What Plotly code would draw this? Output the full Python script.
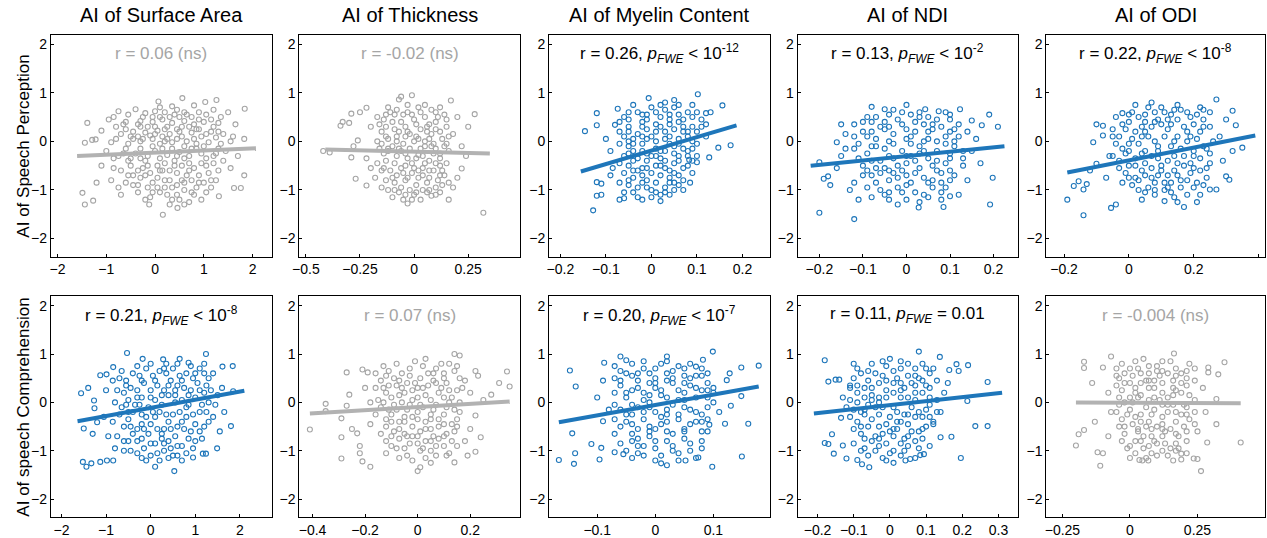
import plotly.graph_objects as go

# ---------------- data ----------------
col_titles = ["AI of Surface Area", "AI of Thickness", "AI of Myelin Content", "AI of NDI", "AI of ODI"]
row_titles = ["AI of Speech Perception", "AI of speech Comprehension"]

stats_text = [
    ["r = 0.06 (ns)", "r = -0.02 (ns)",
     "r = 0.26, <i>p</i><sub><i>FWE</i></sub> < 10<sup>-12</sup>",
     "r = 0.13, <i>p</i><sub><i>FWE</i></sub> < 10<sup>-2</sup>",
     "r = 0.22, <i>p</i><sub><i>FWE</i></sub> < 10<sup>-8</sup>"],
    ["r = 0.21, <i>p</i><sub><i>FWE</i></sub> < 10<sup>-8</sup>", "r = 0.07 (ns)",
     "r = 0.20, <i>p</i><sub><i>FWE</i></sub> < 10<sup>-7</sup>",
     "r = 0.11, <i>p</i><sub><i>FWE</i></sub> = 0.01", "r = -0.004 (ns)"],
]
significant = [[False, False, True, True, True], [True, False, True, True, False]]

surface_perception = [(0.07,0.82),(0.56,0.89),(1.03,0.81),(1.26,0.85),(0.35,0.72),(0.8,0.74),
 (-0.75,0.62),(-0.4,0.66),(0.0,0.62),(0.2,0.6),(0.45,0.65),(0.9,0.6),(1.2,0.65),(1.5,0.6),(1.84,0.67),(-0.2,0.58),(0.65,0.55),
 (-1.39,0.38),(-0.95,0.45),(-0.6,0.4),(-0.3,0.42),(-0.05,0.4),(0.15,0.45),(0.35,0.38),(0.6,0.42),(0.8,0.35),(1.0,0.4),(1.3,0.38),(1.65,0.35),(-0.8,0.3),(0.25,0.3),
 (-1.1,0.22),(-0.7,0.15),(-0.45,0.2),(-0.2,0.18),(0.05,0.22),(0.3,0.15),(0.5,0.2),(0.75,0.18),(0.95,0.1),(1.15,0.2),(1.4,0.15),(1.6,0.1),(-0.05,0.05),(0.45,0.05),
 (-1.44,-0.03),(-1.29,0.03),(-1.22,0.04),(-0.9,-0.02),(-0.55,-0.05),(-0.3,0.0),(0.1,-0.05),(0.35,-0.02),(0.65,0.0),(0.85,-0.05),(1.1,-0.02),(1.35,-0.05),(1.83,0.05),(1.55,0.0),
 (-1.0,-0.2),(-0.75,-0.3),(-0.4,-0.25),(-0.15,-0.3),(0.0,-0.2),(0.25,-0.28),(0.5,-0.22),(0.7,-0.3),(0.95,-0.25),(1.2,-0.3),(1.45,-0.2),(1.7,-0.3),(-0.6,-0.15),(0.4,-0.4),
 (-1.1,-0.5),(-0.85,-0.55),(-0.5,-0.5),(-0.25,-0.55),(0.05,-0.5),(0.3,-0.6),(0.55,-0.5),(0.8,-0.55),(1.05,-0.5),(1.3,-0.6),(1.55,-0.55),(-0.1,-0.65),(0.65,-0.7),
 (-1.2,-0.85),(-0.9,-0.8),(-0.6,-0.85),(-0.3,-0.75),(-0.05,-0.85),(0.2,-0.8),(0.45,-0.9),(0.75,-0.8),(1.0,-0.85),(1.25,-0.8),(1.83,-0.7),(1.76,-0.96),(1.62,-0.96),
 (-1.49,-1.06),(-1.44,-1.3),(-1.27,-1.22),(-0.7,-1.1),(-0.35,-1.05),(-0.1,-1.15),(0.25,-1.1),(0.5,-1.2),(0.8,-1.1),(1.31,-1.13),(0.95,-1.2),(0.16,-1.51),(0.46,-1.37),(-0.12,-1.3),
 (-0.35,0.1),(0.15,0.1),(0.6,-0.1),(0.9,0.25),(-0.2,-0.4),(0.2,-0.45),(0.7,-0.45),(1.1,-0.65),(-0.45,-0.7),(0.05,-0.95),(0.35,-0.95),(0.6,-1.0),(-0.15,0.3),(0.5,0.5),(0.1,0.7),
 (-0.85,0.5),(-0.55,0.55),(-0.25,0.5),(0.1,0.5),(0.4,0.55),(0.75,0.5),(1.05,0.55),(1.35,0.5),
 (-0.6,0.25),(-0.3,0.3),(0.0,0.3),(0.2,0.25),(0.55,0.3),(0.85,0.25),(1.2,0.3),
 (-0.8,0.05),(-0.45,0.05),(-0.1,0.12),(0.2,0.0),(0.55,0.1),(0.8,0.05),(1.25,0.08),
 (-0.85,-0.35),(-0.5,-0.35),(-0.3,-0.15),(0.1,-0.35),(0.35,-0.15),(0.6,-0.35),(0.85,-0.15),(1.05,-0.35),(1.3,-0.15),
 (-0.7,-0.6),(-0.35,-0.6),(0.15,-0.6),(0.45,-0.65),(0.9,-0.7),(1.2,-0.45),
 (-0.75,-0.95),(-0.45,-0.9),(-0.15,-0.95),(0.1,-1.05),(0.55,-0.8),(0.85,-0.95),(1.15,-0.95),
 (-0.2,-1.2),(0.35,-1.2),(0.7,-1.25),
 (-0.65,0.35),(-0.35,0.35),(-0.05,0.5),(0.3,0.5),(0.6,0.6),(0.9,0.45),(1.15,0.45),
 (-0.5,0.1),(-0.25,0.05),(0.0,0.15),(0.25,0.05),(0.45,0.25),(0.7,0.3),(1.05,0.15),(1.3,0.2),
 (-0.65,-0.25),(-0.3,-0.35),(-0.05,-0.1),(0.15,-0.15),(0.45,-0.3),(0.75,-0.15),(1.0,-0.1),(1.25,-0.25),
 (-0.55,-0.4),(-0.15,-0.5),(0.1,-0.6),(0.4,-0.5),(0.7,-0.6),(0.95,-0.45),(1.4,-0.4),
 (-0.55,-0.7),(-0.2,-0.7),(0.05,-0.75),(0.3,-0.8),(0.6,-0.85),(0.9,-0.85),(1.15,-0.8),
 (-0.35,-0.9),(-0.05,-1.05),(0.2,-0.95),(0.45,-1.1),(0.75,-1.05),(1.05,-1.05),(0.3,-1.3),(0.6,-1.3)]

thickness_perception = [(-0.34,0.32),(-0.39,-0.23),(-0.29,0.57),(-0.25,0.6),(-0.22,0.69),(-0.29,-0.33),(-0.27,-0.77),(-0.22,-0.91),
 (-0.06,0.92),(-0.01,0.95),(-0.07,0.86),(0.17,0.84),(0.22,-0.56),(0.16,-1.2),(0.08,-1.12),(-0.03,-1.28),(-0.05,-1.2),(0.28,0.56),(0.32,-1.47),
 (-0.3,0.38),(-0.33,0.4),(-0.42,-0.2),(-0.26,0.02),(-0.28,-0.1),(0.2,0.5),(0.25,0.3),(0.22,-0.1),(0.24,-0.3),(0.2,-0.75),(0.18,-0.95),(0.12,-1.05),
 (-0.15,-0.95),(-0.18,-0.75),(-0.2,-0.55),(-0.22,-0.35),(-0.2,0.3),(-0.17,0.5),(-0.12,0.7),(0.05,0.75),(0.12,0.7),
 (-0.15,0.2),(-0.1,0.4),(-0.05,0.55),(0.0,0.45),(0.05,0.5),(0.1,0.4),(0.15,0.3),(-0.12,0.05),(-0.07,0.2),(-0.02,0.15),(0.03,0.25),(0.08,0.15),(0.13,0.05),
 (-0.16,-0.15),(-0.1,-0.1),(-0.05,-0.05),(0.0,0.0),(0.05,-0.1),(0.1,-0.15),(0.16,-0.2),(-0.13,-0.4),(-0.08,-0.3),(-0.03,-0.35),(0.02,-0.28),(0.07,-0.4),(0.12,-0.35),
 (-0.11,-0.6),(-0.06,-0.55),(-0.01,-0.65),(0.04,-0.55),(0.09,-0.6),(0.14,-0.7),(-0.09,-0.85),(-0.04,-0.8),(0.01,-0.9),(0.06,-0.85),(0.1,-0.95),
 (-0.07,-1.05),(0.0,-1.1),(0.04,-1.0),(-0.11,0.6),(0.02,0.7),(-0.14,-0.25),(0.12,-0.5),(-0.02,-0.15),(0.07,0.05),(-0.08,0.1),(0.04,-0.7),(-0.04,0.3),(0.1,0.6),
 (-0.16,0.35),(-0.13,0.55),(-0.08,0.65),(-0.03,0.75),(0.03,0.6),(0.08,0.65),(0.14,0.55),(0.18,0.15),
 (-0.17,0.0),(-0.13,0.3),(-0.06,0.4),(-0.01,0.55),(0.07,0.35),(0.12,0.2),(0.16,0.1),
 (-0.15,-0.05),(-0.09,0.25),(-0.04,0.1),(0.01,0.1),(0.05,0.0),(0.09,-0.05),(0.14,-0.1),
 (-0.17,-0.45),(-0.12,-0.2),(-0.06,-0.2),(-0.01,-0.45),(0.03,-0.15),(0.09,-0.25),(0.15,-0.45),
 (-0.15,-0.6),(-0.1,-0.75),(-0.05,-0.65),(0.02,-0.75),(0.07,-0.6),(0.11,-0.8),(0.16,-0.85),
 (-0.12,-1.0),(-0.06,-0.95),(-0.02,-1.0),(0.03,-1.2),(0.07,-1.0),(-0.1,-1.15),(0.13,-0.9),
 (-0.14,0.45),(-0.09,0.55),(-0.03,0.6),(0.01,0.35),(0.06,0.3),(0.11,0.5),(0.15,0.45),
 (-0.13,0.1),(-0.08,0.0),(-0.03,0.2),(0.02,0.05),(0.06,0.2),(0.1,0.25),(0.15,-0.05),
 (-0.12,-0.15),(-0.07,-0.15),(-0.04,-0.25),(0.01,-0.35),(0.04,-0.3),(0.08,-0.1),(0.12,-0.25),
 (-0.14,-0.55),(-0.09,-0.45),(-0.04,-0.5),(0.0,-0.55),(0.05,-0.45),(0.1,-0.45),(0.13,-0.6),
 (-0.13,-0.8),(-0.08,-0.7),(-0.03,-0.75),(0.02,-0.6),(0.07,-0.75),(0.12,-0.7),
 (-0.09,-1.0),(-0.04,-1.1),(0.01,-1.05),(0.06,-1.05),(0.1,-1.1),(-0.01,-1.2)]

myelin_perception = [(-0.146,0.21),(-0.12,0.58),(-0.12,0.33),(-0.12,-0.84),(-0.11,-0.87),(-0.128,-1.42),(-0.12,-1.12),(-0.11,-1.1),
 (-0.074,0.67),(-0.08,0.34),(-0.07,-1.2),(-0.06,-1.17),(-0.006,0.89),(-0.02,-1.2),(0.02,-1.23),(0.102,0.97),(0.156,0.74),(0.13,0.6),(0.12,0.58),
 (0.174,-0.08),(0.147,-0.13),(0.127,-0.33),(0.1,-0.3),(0.1,-0.43),(0.083,-0.38),(0.085,-0.85),(-0.09,-0.2),(-0.1,0.05),(-0.085,-0.55),(-0.09,-0.7),
 (0.11,0.3),(0.12,0.1),(0.09,0.75),(0.05,0.85),(0.07,-1.0),(0.04,-1.1),
 (-0.06,0.5),(-0.03,0.6),(0.0,0.7),(0.03,0.65),(0.06,0.55),(0.09,0.5),(-0.05,0.3),(-0.02,0.4),(0.01,0.35),(0.04,0.45),(0.07,0.3),(0.1,0.2),
 (-0.06,0.1),(-0.03,0.15),(0.0,0.1),(0.03,0.2),(0.06,0.05),(0.09,0.0),(-0.05,-0.1),(-0.02,-0.05),(0.01,-0.15),(0.04,-0.05),(0.07,-0.15),(0.08,-0.2),
 (-0.06,-0.3),(-0.03,-0.35),(0.0,-0.3),(0.03,-0.4),(0.06,-0.3),(-0.05,-0.5),(-0.02,-0.55),(0.01,-0.5),(0.04,-0.6),(0.07,-0.55),
 (-0.04,-0.75),(-0.01,-0.8),(0.02,-0.7),(0.05,-0.85),(-0.03,-0.95),(0.0,-1.0),(0.03,-0.95),(-0.07,-0.85),(-0.04,0.75),(0.02,0.5),(0.05,0.25),
 (-0.01,0.25),(0.02,-0.2),(-0.04,-0.2),(0.05,-0.45),(-0.01,-0.4),
 (-0.07,0.4),(-0.05,0.6),(-0.01,0.55),(0.02,0.75),(0.05,0.7),(0.08,0.6),(0.11,0.45),
 (-0.07,0.2),(-0.04,0.05),(-0.01,0.45),(0.02,0.3),(0.06,0.4),(0.08,0.2),(0.12,0.35),
 (-0.07,-0.05),(-0.04,-0.05),(-0.01,0.05),(0.03,0.05),(0.05,-0.1),(0.08,0.1),(0.1,-0.05),
 (-0.07,-0.45),(-0.04,-0.4),(-0.01,-0.25),(0.02,-0.35),(0.05,-0.25),(0.09,-0.4),
 (-0.06,-0.65),(-0.03,-0.6),(0.0,-0.65),(0.03,-0.55),(0.06,-0.7),(0.09,-0.65),
 (-0.05,-0.9),(-0.02,-0.85),(0.01,-1.05),(0.04,-0.85),(0.07,-0.8),(-0.06,-1.05),(0.02,-1.1),(-0.03,-1.15),(0.05,-1.0),
 (-0.05,0.45),(-0.02,0.55),(0.01,0.6),(0.04,0.55),(0.07,0.45),(0.1,0.6),
 (-0.05,0.2),(-0.02,0.3),(0.01,0.2),(0.04,0.35),(0.07,0.2),(0.09,0.3),
 (-0.05,0.0),(-0.02,0.1),(0.01,0.0),(0.04,0.1),(0.06,-0.05),(0.09,-0.15),
 (-0.05,-0.25),(-0.02,-0.2),(0.01,-0.3),(0.03,-0.2),(0.06,-0.4),(0.08,-0.3),
 (-0.04,-0.6),(-0.01,-0.55),(0.02,-0.5),(0.05,-0.65),(0.08,-0.5),
 (-0.05,-0.8),(-0.02,-0.7),(0.01,-0.85),(0.04,-0.75),(0.06,-0.9),
 (-0.04,-1.05),(-0.01,-0.95),(0.03,-1.05),(0.0,-1.15),(0.06,0.75),(0.03,0.8)]

ndi_perception = [(-0.2,-1.47),(-0.12,-1.6),(-0.2,-0.43),(-0.19,-0.77),(-0.18,-0.72),(-0.175,-0.9),(-0.16,-0.02),(-0.15,0.35),(-0.14,0.15),
 (-0.08,0.71),(-0.05,0.66),(0.21,0.3),(0.19,0.55),(0.173,0.33),(0.15,0.43),(0.123,0.66),(0.074,0.62),(0.043,0.66),(0.198,-0.75),(0.192,-1.3),
 (0.1,-1.13),(0.12,-1.1),(0.085,-1.35),(0.028,-1.36),(0.14,-0.8),(-0.15,-0.3),(-0.16,-0.55),(-0.13,-1.0),(-0.14,-0.15),(-0.11,-1.2),
 (0.15,-0.2),(0.16,0.05),(0.13,-0.5),(0.17,-0.45),(0.14,0.2),(-0.1,0.4),(0.0,0.75),
 (-0.1,0.2),(-0.06,0.3),(-0.02,0.45),(0.02,0.4),(0.06,0.35),(0.1,0.45),(-0.11,-0.05),(-0.07,0.05),(-0.03,0.15),(0.01,0.1),(0.05,0.2),(0.09,0.1),
 (-0.09,-0.25),(-0.05,-0.15),(-0.01,-0.2),(0.03,-0.1),(0.07,-0.2),(0.11,-0.1),(-0.1,-0.5),(-0.06,-0.4),(-0.02,-0.5),(0.02,-0.4),(0.06,-0.5),(0.1,-0.35),
 (-0.08,-0.7),(-0.04,-0.8),(0.0,-0.7),(0.04,-0.75),(0.08,-0.65),(-0.06,-1.0),(-0.02,-0.95),(0.02,-1.05),(0.06,-0.95),(-0.04,-1.2),(0.03,-1.25),
 (-0.04,0.55),(0.03,0.6),(0.08,-0.85),(-0.08,0.4),(0.0,-0.3),(0.04,0.0),(-0.04,-0.6),(0.1,-0.6),(-0.12,-0.85),(0.11,0.25),
 (-0.12,0.35),(-0.07,0.5),(-0.03,0.65),(0.01,0.55),(0.05,0.5),(0.09,0.6),(0.12,0.35),
 (-0.12,0.1),(-0.08,0.2),(-0.04,0.3),(0.0,0.25),(0.04,0.35),(0.08,0.3),(0.12,0.1),
 (-0.12,-0.15),(-0.07,-0.1),(-0.03,-0.05),(0.01,-0.05),(0.05,0.05),(0.09,-0.05),(0.13,-0.2),
 (-0.11,-0.35),(-0.07,-0.55),(-0.03,-0.35),(0.01,-0.3),(0.05,-0.35),(0.09,-0.45),(0.13,-0.35),
 (-0.1,-0.7),(-0.06,-0.65),(-0.02,-0.75),(0.02,-0.65),(0.06,-0.8),(0.1,-0.8),
 (-0.09,-0.95),(-0.04,-1.05),(0.0,-0.9),(0.04,-1.1),(0.08,-1.05),(-0.08,-1.15),(0.0,-1.2),
 (-0.09,0.5),(-0.05,0.4),(-0.01,0.6),(0.03,0.5),(0.07,0.45),(0.1,0.55),
 (-0.09,0.1),(-0.05,0.25),(-0.01,0.35),(0.02,0.2),(0.06,0.25),(0.1,0.2),
 (-0.08,-0.1),(-0.04,0.0),(0.0,0.05),(0.04,-0.2),(0.07,0.0),(0.11,0.0),
 (-0.08,-0.4),(-0.04,-0.3),(0.0,-0.45),(0.03,-0.25),(0.07,-0.4),(0.1,-0.25),
 (-0.09,-0.6),(-0.05,-0.55),(-0.01,-0.6),(0.03,-0.55),(0.07,-0.6),(0.11,-0.7),
 (-0.07,-0.85),(-0.03,-0.65),(0.01,-0.85),(0.05,-0.85),(0.09,-0.95),
 (-0.05,-1.1),(-0.01,-1.05),(0.05,-1.15),(0.08,-1.2),(-0.02,-1.3)]

odi_perception = [(-0.17,-0.92),(-0.19,-1.2),(-0.14,-1.52),(-0.155,-0.82),(-0.14,-0.99),(-0.13,-0.88),(-0.11,-0.02),(-0.1,0.35),(-0.08,0.12),
 (-0.1,-0.46),(-0.08,0.32),(-0.055,-1.37),(-0.04,-1.3),(-0.02,0.58),(0.07,0.8),(0.27,0.86),(0.32,0.63),(0.33,0.33),(0.35,-0.13),(0.32,-0.2),
 (0.3,-0.72),(0.31,-0.79),(0.27,-0.99),(0.25,-0.99),(0.21,-1.25),(0.17,-1.35),(0.11,-1.23),(-0.12,-0.6),(-0.06,-0.3),(-0.05,0.1),(-0.07,-0.75),
 (0.3,0.45),(0.28,0.1),(0.29,-0.4),(0.22,0.7),(0.02,0.75),(0.04,-1.2),
 (-0.02,0.35),(0.03,0.5),(0.08,0.6),(0.13,0.55),(0.18,0.6),(0.23,0.45),(-0.03,0.1),(0.02,0.2),(0.07,0.3),(0.12,0.25),(0.17,0.3),(0.22,0.2),
 (-0.02,-0.15),(0.03,-0.05),(0.08,0.0),(0.13,-0.1),(0.18,0.0),(0.23,-0.1),(-0.03,-0.4),(0.02,-0.35),(0.07,-0.3),(0.12,-0.4),(0.17,-0.3),(0.22,-0.35),
 (-0.01,-0.65),(0.04,-0.6),(0.09,-0.7),(0.14,-0.6),(0.19,-0.65),(0.24,-0.55),(0.01,-0.9),(0.06,-0.95),(0.11,-0.85),(0.16,-0.95),(0.21,-0.85),
 (0.08,-1.1),(0.14,-1.15),(0.1,0.7),(0.15,0.75),(0.05,0.4),(0.1,-0.5),(0.15,0.1),(0.05,-0.2),(0.2,-0.2),(0.0,-0.75),(0.12,0.45),
 (-0.04,0.5),(0.01,0.6),(0.06,0.7),(0.11,0.6),(0.16,0.65),(0.21,0.55),(0.25,0.6),
 (-0.05,0.25),(0.0,0.4),(0.05,0.2),(0.1,0.35),(0.15,0.45),(0.2,0.35),(0.25,0.3),
 (-0.04,-0.05),(0.01,0.05),(0.06,0.1),(0.11,0.1),(0.16,-0.15),(0.21,0.05),(0.26,0.0),
 (-0.05,-0.3),(0.0,-0.2),(0.05,-0.45),(0.09,-0.2),(0.14,-0.3),(0.19,-0.45),(0.25,-0.25),
 (-0.03,-0.55),(0.02,-0.5),(0.07,-0.55),(0.12,-0.7),(0.17,-0.5),(0.22,-0.6),
 (-0.02,-0.85),(0.03,-0.8),(0.08,-0.85),(0.13,-0.85),(0.18,-0.8),(0.23,-0.9),(0.05,-1.05),(0.11,-1.0),(0.18,-1.1),
 (0.0,0.55),(0.05,0.55),(0.09,0.45),(0.14,0.65),(0.19,0.5),(0.23,0.65),
 (-0.01,0.25),(0.04,0.3),(0.08,0.4),(0.13,0.35),(0.18,0.2),(0.23,0.3),
 (0.0,-0.05),(0.04,0.1),(0.09,-0.1),(0.14,0.0),(0.19,0.1),(0.24,-0.15),
 (-0.01,-0.25),(0.04,-0.25),(0.09,-0.35),(0.15,-0.45),(0.2,-0.3),(0.25,-0.45),
 (0.0,-0.5),(0.05,-0.7),(0.1,-0.6),(0.15,-0.7),(0.2,-0.55),(0.24,-0.75),
 (0.02,-0.75),(0.07,-0.75),(0.12,-0.95),(0.16,-0.8),(0.2,-0.95),
 (0.03,-1.0),(0.08,-1.0),(0.13,-1.05),(0.15,-1.25),(0.22,-1.1)]

surface_comprehension = [(-1.56,0.19),(-1.5,-0.54),(-1.52,-1.23),(-1.44,-1.33),(-1.33,-1.26),(-1.13,-1.23),(-0.98,-1.2),(-0.84,-1.2),
 (-1.27,0.04),(-1.26,-0.12),(-1.2,-0.41),(-1.13,0.56),(-0.99,0.58),(-0.84,0.73),(-0.53,1.02),(-0.18,0.9),(0.28,0.89),(0.85,0.82),(1.24,1.0),
 (1.61,0.74),(1.84,0.75),(1.85,0.23),(1.8,-0.49),(1.49,-0.95),(1.24,-1.06),(1.17,-1.06),(0.95,-1.14),(0.53,-1.42),(0.1,-1.33),
 (-1.0,0.25),(-1.05,-0.3),(-0.95,-0.7),(-0.8,-0.95),(1.6,0.3),(1.65,-0.2),(1.55,-0.6),(1.4,0.6),(-1.3,-0.65),(-1.4,0.3),
 (-0.7,0.5),(-0.4,0.6),(-0.1,0.7),(0.2,0.65),(0.5,0.7),(0.8,0.6),(1.1,0.7),(1.3,0.5),(-0.75,0.25),(-0.45,0.3),(-0.15,0.4),(0.15,0.35),
 (0.45,0.45),(0.75,0.3),(1.05,0.4),(1.35,0.25),(-0.8,0.0),(-0.5,0.05),(-0.2,0.1),(0.1,0.05),(0.4,0.15),(0.7,0.05),(1.0,0.1),(1.3,0.0),
 (-0.7,-0.25),(-0.4,-0.2),(-0.1,-0.3),(0.2,-0.2),(0.5,-0.25),(0.8,-0.3),(1.1,-0.2),(1.4,-0.3),(-0.6,-0.5),(-0.3,-0.55),(0.0,-0.45),
 (0.3,-0.55),(0.6,-0.5),(0.9,-0.6),(1.2,-0.5),(-0.5,-0.8),(-0.2,-0.75),(0.1,-0.85),(0.4,-0.8),(0.7,-0.9),(1.0,-0.8),(-0.3,-1.05),
 (0.0,-1.1),(0.3,-1.0),(0.6,-1.1),(-0.6,-1.0),(0.35,0.8),(0.65,0.9),(-0.25,-0.05),(0.55,0.25),(0.85,-0.05),(0.25,-0.65),
 (-0.85,0.45),(-0.55,0.45),(-0.25,0.55),(0.05,0.55),(0.35,0.6),(0.65,0.55),(0.95,0.5),(1.2,0.6),
 (-0.6,0.2),(-0.3,0.25),(0.0,0.25),(0.3,0.25),(0.6,0.35),(0.9,0.25),(1.2,0.2),(1.5,0.15),
 (-0.65,-0.1),(-0.35,-0.05),(-0.05,-0.1),(0.25,-0.05),(0.55,0.0),(0.85,0.15),(1.15,-0.05),(1.45,-0.05),
 (-0.85,-0.4),(-0.5,-0.35),(-0.2,-0.45),(0.1,-0.3),(0.4,-0.4),(0.7,-0.4),(1.0,-0.45),(1.3,-0.4),
 (-0.75,-0.7),(-0.4,-0.65),(-0.05,-0.65),(0.25,-0.75),(0.55,-0.7),(0.85,-0.75),(1.15,-0.75),
 (-0.45,-1.0),(-0.15,-0.95),(0.15,-1.05),(0.45,-0.95),(0.8,-1.05),(-0.1,-1.2),(0.4,-1.15),
 (-0.65,0.65),(-0.3,0.75),(0.0,0.8),(0.3,0.7),(0.6,0.8),(0.9,0.75),(1.2,0.8),
 (-0.55,0.35),(-0.2,0.45),(0.1,0.45),(0.4,0.35),(0.7,0.45),(1.0,0.6),(1.25,0.35),
 (-0.55,-0.05),(-0.3,0.1),(0.0,0.1),(0.25,0.15),(0.55,0.15),(0.8,-0.1),(1.1,0.25),
 (-0.5,-0.2),(-0.2,-0.25),(0.05,-0.2),(0.35,-0.25),(0.65,-0.2),(0.95,-0.25),(1.25,-0.2),
 (-0.45,-0.5),(-0.15,-0.55),(0.15,-0.55),(0.45,-0.55),(0.75,-0.55),(1.1,-0.6),
 (-0.6,-0.8),(-0.3,-0.8),(0.0,-0.85),(0.3,-0.85),(0.6,-0.9),(0.95,-0.95),
 (-0.2,-1.15),(0.2,-1.2),(0.5,-1.1),(0.7,-1.2)]

thickness_comprehension = [(-0.41,-0.56),(-0.35,-0.03),(-0.35,-0.18),(-0.29,-0.33),(-0.29,-0.72),(-0.29,-1.16),(-0.27,0.62),(-0.26,0.16),
 (-0.27,-0.07),(-0.25,-0.55),(-0.23,-0.64),(-0.22,-0.9),(-0.22,-1.05),(-0.21,-1.22),(-0.18,-1.33),(-0.21,0.68),(-0.19,0.62),(0.0,-1.42),
 (0.01,-1.34),(0.14,1.0),(0.16,0.97),(0.14,-1.24),(0.19,-1.1),(0.22,0.65),(0.23,0.55),(0.31,0.4),(0.34,0.64),(0.35,0.33),(0.28,0.16),
 (0.22,-0.27),(0.24,-0.72),(0.22,-1.02),(0.2,-0.55),(-0.2,0.3),(-0.18,0.0),(-0.18,-0.45),(0.2,0.2),(0.18,-0.8),(0.25,0.05),
 (-0.13,0.75),(-0.08,0.8),(-0.03,0.7),(0.02,0.75),(0.07,0.7),(0.12,0.8),(-0.14,0.45),(-0.09,0.5),(-0.04,0.4),(0.01,0.5),(0.06,0.45),
 (0.11,0.4),(0.16,0.5),(-0.12,0.2),(-0.07,0.15),(-0.02,0.25),(0.03,0.15),(0.08,0.2),(0.13,0.1),(-0.14,-0.1),(-0.09,-0.05),(-0.04,-0.15),
 (0.01,-0.05),(0.06,-0.15),(0.11,-0.1),(0.16,-0.2),(-0.12,-0.35),(-0.07,-0.4),(-0.02,-0.3),(0.03,-0.4),(0.08,-0.35),(0.13,-0.45),
 (-0.14,-0.65),(-0.09,-0.6),(-0.04,-0.7),(0.01,-0.6),(0.06,-0.7),(0.11,-0.65),(-0.1,-0.9),(-0.05,-0.95),(0.0,-0.85),(0.05,-1.0),(0.1,-0.9),
 (-0.07,-1.15),(0.03,-1.15),(0.0,0.3),(0.05,-0.55),(-0.06,0.0),(0.1,0.6),(-0.1,-0.25),
 (-0.16,0.6),(-0.11,0.65),(-0.06,0.6),(-0.01,0.85),(0.04,0.6),(0.09,0.8),(0.14,0.65),(0.18,0.45),
 (-0.16,0.3),(-0.11,0.35),(-0.06,0.3),(-0.01,0.4),(0.04,0.35),(0.09,0.3),(0.15,0.25),
 (-0.15,0.05),(-0.1,0.1),(-0.05,0.2),(0.0,0.1),(0.05,0.05),(0.1,0.1),(0.16,0.0),
 (-0.16,-0.25),(-0.11,-0.15),(-0.05,-0.3),(0.0,-0.2),(0.05,-0.25),(0.1,-0.25),(0.15,-0.35),
 (-0.12,-0.5),(-0.07,-0.55),(-0.02,-0.5),(0.03,-0.55),(0.08,-0.5),(0.14,-0.6),
 (-0.12,-0.8),(-0.07,-0.75),(-0.02,-0.7),(0.03,-0.8),(0.08,-0.75),(0.13,-0.8),
 (-0.12,-1.05),(-0.04,-1.1),(0.01,-1.0),(0.07,-1.1),(0.12,-1.05),
 (-0.12,0.55),(-0.07,0.45),(-0.03,0.55),(0.03,0.9),(0.06,0.6),(0.1,0.5),(0.15,0.75),
 (-0.13,0.3),(-0.08,0.35),(-0.02,0.05),(0.02,0.3),(0.07,0.4),(0.12,0.25),(0.17,0.3),
 (-0.13,0.0),(-0.08,-0.15),(-0.03,-0.05),(0.02,-0.1),(0.07,-0.05),(0.12,0.0),(0.14,-0.15),
 (-0.1,-0.4),(-0.05,-0.4),(0.0,-0.35),(0.05,-0.35),(0.1,-0.45),(0.15,-0.5),
 (-0.1,-0.7),(-0.05,-0.65),(0.0,-0.7),(0.05,-0.8),(0.1,-0.7),(0.15,-0.9),
 (-0.08,-0.95),(-0.03,-0.85),(0.02,-0.95),(0.07,-0.9),(0.11,-1.1),(-0.02,-1.2),(0.05,-1.25)]

myelin_comprehension = [(-0.166,-1.19),(-0.147,0.66),(-0.137,0.33),(-0.143,-0.64),(-0.138,-1.05),(-0.14,-1.27),(-0.11,-0.86),(-0.096,-1.18),
 (-0.093,-0.94),(-0.09,-0.39),(-0.088,0.82),(-0.06,0.95),(-0.05,0.87),(-0.07,-1.03),(-0.055,-1.07),(0.01,-1.26),(0.02,-1.3),(0.099,1.05),
 (0.082,0.88),(0.07,0.74),(0.148,0.72),(0.178,0.76),(0.128,0.6),(0.123,0.46),(0.148,0.13),(0.13,-0.07),(0.16,-0.44),(0.12,-0.44),(0.093,-0.46),
 (0.149,-1.12),(0.098,-1.33),(0.074,-1.14),(0.052,-1.2),(0.08,-0.6),(-0.1,0.1),(-0.08,-0.15),(-0.09,0.45),(0.1,0.2),(0.11,-0.2),
 (-0.05,0.6),(-0.02,0.7),(0.01,0.8),(0.04,0.75),(0.07,0.55),(-0.06,0.35),(-0.03,0.45),(0.0,0.5),(0.03,0.4),(0.06,0.35),(0.09,0.4),
 (-0.05,0.1),(-0.02,0.2),(0.01,0.15),(0.04,0.25),(0.07,0.1),(-0.06,-0.15),(-0.03,-0.1),(0.0,-0.2),(0.03,-0.05),(0.06,-0.15),(0.09,-0.1),
 (-0.05,-0.4),(-0.02,-0.35),(0.01,-0.45),(0.04,-0.35),(0.07,-0.4),(-0.04,-0.65),(-0.01,-0.7),(0.02,-0.6),(0.05,-0.75),(0.08,-0.8),
 (-0.03,-0.9),(0.0,-0.95),(0.03,-0.9),(0.06,-1.0),(-0.02,-1.1),(0.02,0.6),(-0.01,0.0),(0.05,0.55),(0.02,-0.25),(-0.04,-0.25),(0.05,0.05),(0.0,0.3),
 (-0.07,0.75),(-0.04,0.8),(-0.01,0.6),(0.02,0.85),(0.05,0.7),(0.08,0.7),
 (-0.07,0.5),(-0.04,0.55),(-0.01,0.4),(0.02,0.45),(0.05,0.4),(0.08,0.55),(0.1,0.3),
 (-0.07,0.2),(-0.04,0.25),(-0.01,0.15),(0.02,0.1),(0.05,0.2),(0.08,0.25),(0.1,0.0),
 (-0.07,-0.05),(-0.04,-0.05),(-0.01,-0.1),(0.02,-0.15),(0.05,-0.1),(0.08,-0.25),
 (-0.07,-0.35),(-0.04,-0.45),(-0.01,-0.5),(0.02,-0.4),(0.05,-0.55),(0.08,-0.4),
 (-0.07,-0.65),(-0.04,-0.8),(-0.01,-0.6),(0.02,-0.8),(0.05,-0.6),(0.08,-0.95),
 (-0.05,-1.0),(-0.02,-0.9),(0.01,-1.1),(0.04,-1.05),(0.07,-1.15),(-0.04,-1.15),
 (-0.06,0.65),(-0.03,0.6),(0.0,0.7),(0.03,0.65),(0.06,0.8),(0.09,0.6),
 (-0.06,0.45),(-0.03,0.3),(0.0,0.4),(0.03,0.5),(0.06,0.5),(0.09,0.25),
 (-0.05,0.2),(-0.02,0.05),(0.01,0.25),(0.04,0.05),(0.07,0.3),(0.09,0.1),
 (-0.05,-0.25),(-0.02,-0.2),(0.01,-0.3),(0.04,-0.25),(0.07,-0.2),(0.09,-0.35),
 (-0.06,-0.5),(-0.03,-0.55),(0.0,-0.55),(0.03,-0.65),(0.06,-0.45),(0.09,-0.6),
 (-0.06,-0.85),(-0.03,-0.75),(0.0,-0.8),(0.03,-1.0),(0.06,-0.85),
 (-0.03,-1.05),(0.0,-1.2),(0.04,-1.2),(0.02,0.95),(-0.02,0.85)]

ndi_comprehension = [(-0.18,0.87),(-0.17,0.43),(-0.15,0.47),(-0.14,0.47),(-0.18,-0.84),(-0.17,-0.86),(-0.155,-1.06),(-0.16,-0.66),
 (-0.135,-0.32),(-0.13,-0.89),(-0.12,-1.16),(-0.09,-1.19),(-0.077,-1.28),(-0.057,-1.34),(0.08,1.05),(0.138,0.94),(0.184,0.79),(0.216,0.77),
 (0.19,0.65),(0.164,0.67),(0.27,0.42),(0.214,0.03),(0.236,-0.49),(0.27,-0.49),(0.196,-1.15),(0.17,-0.71),(0.14,-0.72),(0.084,-1.09),
 (0.094,-1.07),(0.056,-1.17),(0.043,-1.2),(-0.13,0.1),(-0.12,-0.1),(-0.11,0.3),(0.15,0.2),(0.14,-0.2),(0.16,0.4),(0.12,-0.45),
 (-0.09,0.7),(-0.05,0.8),(-0.01,0.75),(0.03,0.85),(0.07,0.7),(0.11,0.6),(-0.1,0.5),(-0.06,0.45),(-0.02,0.55),(0.02,0.5),(0.06,0.4),(0.1,0.35),
 (-0.09,0.2),(-0.05,0.15),(-0.01,0.25),(0.03,0.1),(0.07,0.2),(0.11,0.1),(-0.1,-0.15),(-0.06,-0.05),(-0.02,-0.1),(0.02,-0.2),(0.06,-0.1),
 (0.1,-0.15),(-0.09,-0.4),(-0.05,-0.35),(-0.01,-0.45),(0.03,-0.4),(0.07,-0.3),(0.11,-0.3),(-0.08,-0.65),(-0.04,-0.7),(0.0,-0.6),(0.04,-0.75),
 (0.08,-0.6),(-0.07,-0.95),(-0.03,-0.9),(0.01,-1.0),(0.05,-0.9),(-0.02,-1.15),(0.04,0.3),(-0.03,0.0),(0.02,-0.55),(0.08,0.5),(-0.07,-0.25),
 (-0.1,0.8),(-0.06,0.65),(-0.02,0.85),(0.01,0.65),(0.05,0.8),(0.09,0.8),(0.12,0.7),
 (-0.11,0.35),(-0.07,0.3),(-0.03,0.4),(0.01,0.4),(0.05,0.55),(0.09,0.45),(0.13,0.45),
 (-0.11,0.05),(-0.07,0.1),(-0.03,0.1),(0.01,0.2),(0.05,0.1),(0.09,0.2),(0.13,0.05),
 (-0.11,-0.3),(-0.07,-0.15),(-0.03,-0.25),(0.01,-0.1),(0.05,-0.25),(0.09,-0.3),(0.13,-0.2),
 (-0.1,-0.55),(-0.06,-0.5),(-0.02,-0.65),(0.02,-0.4),(0.06,-0.6),(0.1,-0.5),
 (-0.1,-0.85),(-0.05,-0.8),(-0.01,-0.85),(0.03,-0.85),(0.07,-0.8),(0.11,-0.9),
 (-0.06,-1.1),(-0.01,-1.2),(0.03,-1.1),(0.07,-1.15),
 (-0.08,0.6),(-0.04,0.6),(0.0,0.9),(0.03,0.7),(0.07,0.55),(0.1,0.7),
 (-0.09,0.35),(-0.05,0.3),(-0.01,0.45),(0.03,0.4),(0.07,0.35),(0.11,0.3),
 (-0.09,0.0),(-0.05,0.05),(-0.01,0.1),(0.03,0.25),(0.07,0.05),(0.11,-0.05),
 (-0.08,-0.2),(-0.04,-0.1),(0.0,-0.3),(0.04,-0.25),(0.08,-0.2),(0.12,-0.4),
 (-0.08,-0.5),(-0.03,-0.5),(0.01,-0.55),(0.05,-0.45),(0.09,-0.55),
 (-0.07,-0.75),(-0.03,-0.75),(0.01,-0.7),(0.05,-0.7),(0.09,-0.75),
 (-0.08,-1.0),(-0.04,-1.0),(0.0,-1.05),(0.04,-1.0),(0.08,-0.95),(0.01,-1.25)]

odi_comprehension = [(-0.2,-0.89),(-0.19,-0.66),(-0.17,-0.57),(-0.17,0.84),(-0.17,0.71),(-0.14,0.4),(-0.13,-0.4),(-0.11,-1.31),(-0.12,-1.03),
 (-0.1,-1.05),(-0.07,0.95),(-0.1,0.72),(0.163,1.01),(0.35,0.83),(0.327,0.58),(0.29,0.62),(0.29,0.72),(0.32,0.07),(0.32,-0.45),(0.286,-0.83),
 (0.41,-0.83),(0.263,-1.42),(0.236,-1.16),(0.25,-1.17),(0.19,-1.06),(0.19,-1.18),(0.046,-1.2),(0.068,-1.2),(0.035,-1.19),(-0.08,0.2),
 (-0.07,-0.2),(-0.08,-0.7),(0.27,0.3),(0.28,-0.2),(0.25,-0.6),(-0.05,0.55),
 (-0.03,0.8),(0.02,0.85),(0.07,0.75),(0.12,0.85),(0.17,0.7),(0.22,0.8),(-0.04,0.5),(0.01,0.55),(0.06,0.45),(0.11,0.55),(0.16,0.45),(0.21,0.5),
 (-0.03,0.25),(0.02,0.2),(0.07,0.3),(0.12,0.2),(0.17,0.25),(0.22,0.15),(-0.04,-0.05),(0.01,0.0),(0.06,-0.1),(0.11,0.05),(0.16,-0.05),(0.21,-0.1),
 (-0.03,-0.35),(0.02,-0.3),(0.07,-0.4),(0.12,-0.3),(0.17,-0.4),(0.22,-0.35),(-0.02,-0.65),(0.03,-0.6),(0.08,-0.7),(0.13,-0.6),(0.18,-0.7),
 (0.0,-0.9),(0.05,-0.95),(0.1,-0.85),(0.15,-0.95),(0.1,-1.1),(0.09,0.1),(0.14,-0.2),(0.04,0.4),(0.1,0.65),(0.06,-0.5),
 (-0.05,0.7),(0.0,0.7),(0.05,0.9),(0.1,0.75),(0.15,0.85),(0.19,0.6),(0.24,0.7),
 (-0.05,0.35),(0.0,0.4),(0.04,0.6),(0.09,0.45),(0.14,0.6),(0.19,0.4),(0.24,0.45),
 (-0.04,0.1),(0.0,0.1),(0.04,0.15),(0.09,0.3),(0.14,0.1),(0.19,0.2),(0.24,0.05),
 (-0.05,-0.2),(0.0,-0.15),(0.04,-0.25),(0.09,-0.15),(0.14,-0.05),(0.19,-0.25),(0.24,-0.2),
 (-0.04,-0.5),(0.01,-0.45),(0.05,-0.7),(0.1,-0.5),(0.15,-0.55),(0.2,-0.5),(0.24,-0.45),
 (-0.03,-0.8),(0.02,-0.8),(0.07,-0.9),(0.12,-0.7),(0.17,-0.85),(0.21,-0.8),
 (0.02,-1.05),(0.08,-1.05),(0.14,-1.1),(0.17,-1.0),
 (-0.02,0.6),(0.03,0.7),(0.07,0.6),(0.12,0.65),(0.17,0.55),(0.21,0.65),
 (-0.02,0.4),(0.02,0.3),(0.07,0.45),(0.12,0.4),(0.16,0.3),(0.21,0.35),
 (-0.02,0.0),(0.03,0.1),(0.07,0.05),(0.12,-0.05),(0.16,0.15),(0.2,-0.05),
 (-0.01,-0.25),(0.04,-0.4),(0.08,-0.25),(0.12,-0.45),(0.17,-0.2),(0.21,-0.25),
 (-0.02,-0.5),(0.03,-0.55),(0.08,-0.55),(0.12,-0.55),(0.17,-0.65),(0.21,-0.6),
 (-0.01,-0.95),(0.04,-0.8),(0.09,-0.8),(0.13,-0.85),(0.18,-0.95),
 (0.0,-1.15),(0.06,-1.15),(0.12,-1.0),(0.16,-1.2),(0.21,-1.05)]

panel_points = [
    [surface_perception, thickness_perception, myelin_perception, ndi_perception, odi_perception],
    [surface_comprehension, thickness_comprehension, myelin_comprehension, ndi_comprehension, odi_comprehension],
]

# regression line end points (x0, y0, x1, y1)
fit_lines = [
    [(-1.6, -0.30, 2.07, -0.14), (-0.41, -0.17, 0.35, -0.25), (-0.155, -0.62, 0.187, 0.33),
     (-0.22, -0.50, 0.225, -0.10), (-0.19, -0.64, 0.39, 0.12)],
    [(-1.64, -0.39, 2.1, 0.24), (-0.41, -0.23, 0.35, 0.02), (-0.166, -0.41, 0.178, 0.33),
     (-0.21, -0.23, 0.31, 0.20), (-0.20, 0.00, 0.41, -0.02)],
]

x_ranges = [
    [(-2.14, 2.39), (-0.53, 0.49), (-0.225, 0.26), (-0.25, 0.257), (-0.255, 0.42)],
    [(-2.24, 2.71), (-0.45, 0.39), (-0.183, 0.197), (-0.255, 0.355), (-0.31, 0.50)],
]
x_ticks = [
    [[-2, -1, 0, 1, 2], [-0.5, -0.25, 0, 0.25], [-0.2, -0.1, 0, 0.1, 0.2], [-0.2, -0.1, 0, 0.1, 0.2], [-0.2, 0, 0.2, 0.4]],
    [[-2, -1, 0, 1, 2], [-0.4, -0.2, 0, 0.2], [-0.1, 0, 0.1], [-0.2, -0.1, 0, 0.1, 0.2, 0.3], [-0.25, 0, 0.25]],
]
y_range = (-2.37, 2.19)
y_ticks = [-2, -1, 0, 1, 2]

# ---------------- styling / layout ----------------
W, H = 1267, 538
BLUE = "rgb(30,118,186)"
GRAY_M = "rgb(165,165,165)"
GRAY_L = "rgb(178,178,178)"
GRAY_T = "rgb(165,165,165)"
FONT = "Liberation Sans, Arial, Helvetica, sans-serif"

col_px = [(44, 266), (294, 516), (545, 767), (795, 1017), (1045, 1265)]
row_px = [(35, 257), (297, 518)]

fig = go.Figure()
layout = dict(
    width=W, height=H, margin=dict(l=0, r=0, t=0, b=0),
    paper_bgcolor="white", plot_bgcolor="white", showlegend=False,
    font=dict(family=FONT, color="black", size=14),
)
annotations = []

for r in range(2):
    for c in range(5):
        k = r * 5 + c + 1
        xa = "x" if k == 1 else f"x{k}"
        ya = "y" if k == 1 else f"y{k}"
        sig = significant[r][c]
        mcol = BLUE if sig else GRAY_M
        lcol = BLUE if sig else GRAY_L
        pts = panel_points[r][c]
        fig.add_trace(go.Scatter(
            x=[p[0] for p in pts], y=[p[1] for p in pts], mode="markers",
            marker=dict(symbol="circle-open", size=5, color=mcol, line=dict(width=1.1, color=mcol)),
            xaxis=xa, yaxis=ya, hoverinfo="skip"))
        x0, y0, x1, y1 = fit_lines[r][c]
        fig.add_trace(go.Scatter(
            x=[x0, x1], y=[y0, y1], mode="lines",
            line=dict(color=lcol, width=4), xaxis=xa, yaxis=ya, hoverinfo="skip"))

        dx = [col_px[c][0] / W, col_px[c][1] / W]
        dy = [1 - row_px[r][1] / H, 1 - row_px[r][0] / H]
        axis_common = dict(showline=True, linecolor="black", linewidth=1, mirror=True,
                           showgrid=False, zeroline=False, ticks="inside", ticklen=3,
                           tickcolor="black", tickfont=dict(size=14, color="black", family=FONT))
        layout["xaxis" if k == 1 else f"xaxis{k}"] = dict(
            domain=dx, range=list(x_ranges[r][c]), tickvals=x_ticks[r][c],
            anchor=ya, **axis_common)
        layout["yaxis" if k == 1 else f"yaxis{k}"] = dict(
            domain=dy, range=list(y_range), tickvals=y_ticks, anchor=xa, **axis_common)

        annotations.append(dict(
            text=stats_text[r][c], x=(dx[0] + dx[1]) / 2, y=1 - (row_px[r][0] + 19) / H,
            xref="paper", yref="paper", xanchor="center", yanchor="middle", showarrow=False,
            font=dict(size=17, color="black" if sig else GRAY_T, family=FONT)))

for c in range(5):
    annotations.append(dict(
        text=col_titles[c], x=(col_px[c][0] + col_px[c][1]) / 2 / W, y=1 - 15 / H,
        xref="paper", yref="paper", xanchor="center", yanchor="middle", showarrow=False,
        font=dict(size=20, color="black", family=FONT)))

for r in range(2):
    annotations.append(dict(
        text=row_titles[r], x=17 / W, y=1 - (row_px[r][0] + row_px[r][1]) / 2 / H,
        xref="paper", yref="paper", xanchor="center", yanchor="middle", showarrow=False,
        textangle=-90, font=dict(size=17, color="black", family=FONT)))

layout["annotations"] = annotations
fig.update_layout(**layout)
fig.write_html("out.html", config={"displayModeBar": False},
               post_script="document.body.style.margin='0';document.body.style.padding='0';document.body.style.overflow='hidden';")
